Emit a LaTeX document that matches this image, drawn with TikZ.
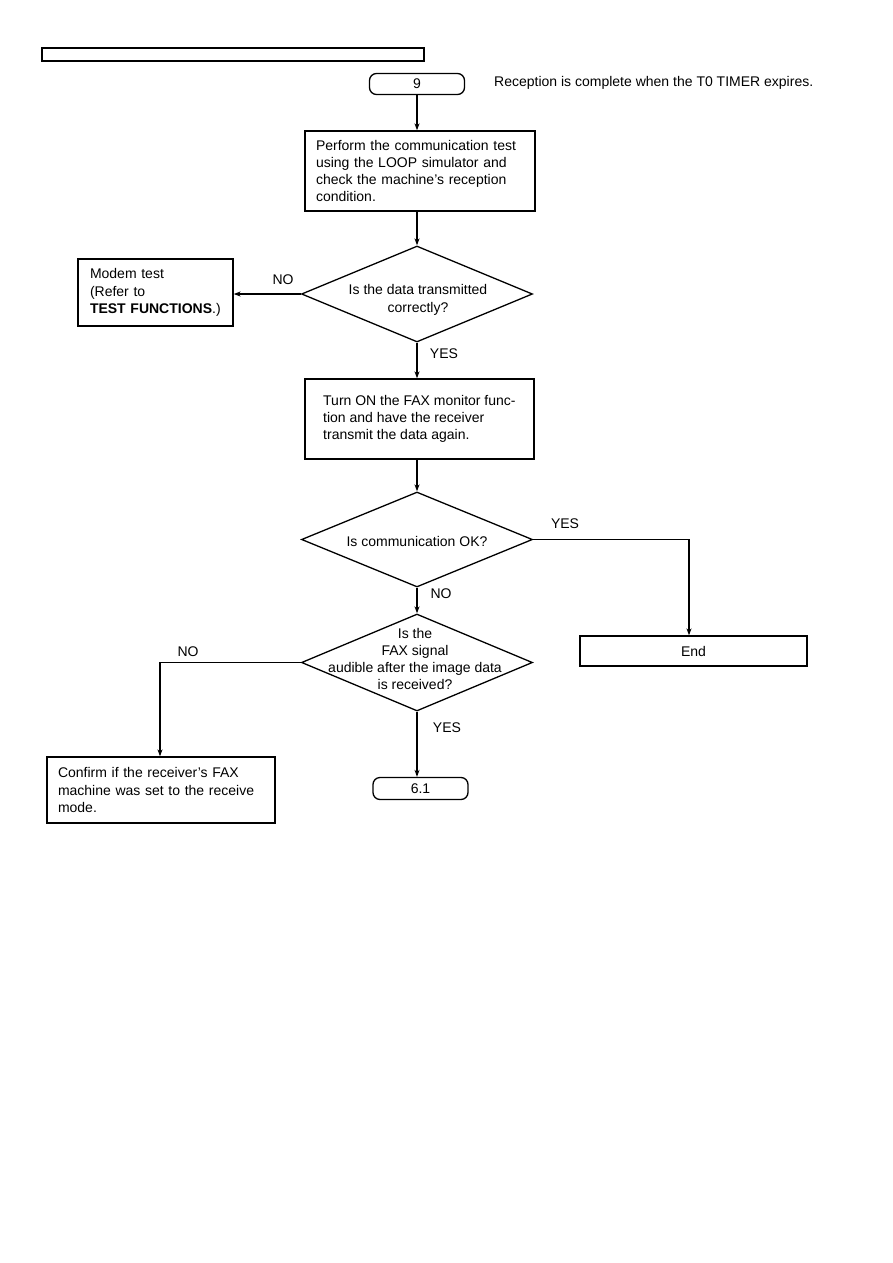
\documentclass[tikz,border=0pt]{standalone}
\usepackage{fontspec}
\setmainfont{Liberation Sans}
\usetikzlibrary{shapes.geometric,arrows.meta}
\begin{document}
\begin{tikzpicture}[x=1pt,y=-1pt,
  every node/.style={font=\fontsize{14}{17.3}\selectfont},
  frame/.style={draw, line width=1.3pt, rectangle, inner ysep=0pt},
  term/.style={draw, line width=1.3pt, rectangle, rounded corners=7pt, inner sep=0pt},
  decision/.style={draw, line width=1.3pt, diamond, inner sep=0pt},
  lbl/.style={inner sep=0pt},
  conn/.style={line width=1.3pt, -{Stealth[length=7pt,width=5pt]}}]
\useasboundingbox (0,0) rectangle (893,1263);
\fill[white] (0,0) rectangle (893,1263);
\coordinate (sp) at (417,0);

% header bar
\node[draw, line width=1.2pt, rectangle, minimum width=382pt, minimum height=13pt, inner sep=0pt] (hdr) at (233,54.5) {};

% start terminal
\node[term, minimum width=95pt, minimum height=21pt] (t9) at (417,84) {9};
\node[lbl, anchor=west] (note) at (494,83) {Reception is complete when the T0 TIMER expires.};

% box 1
\node[frame, minimum width=230pt, minimum height=80pt, inner xsep=11pt, text width=208pt, align=left] (b1) at (420,171)
  {Perform the communication test\\using the LOOP simulator and\\check the machine's reception\\condition.};

% diamond 1
\node[decision, minimum width=231pt, minimum height=96pt] (d1) at (417,294) {};
\node[lbl, align=center] (d1t) at (418,300) {Is the data transmitted\\correctly?};

% modem box
\node[frame, minimum width=155pt, minimum height=67pt, inner xsep=12pt, text width=131pt, align=left] (mod) at (155.5,292.5)
  {Modem test\\(Refer to\\\textbf{TEST FUNCTIONS}.)};

% box 2
\node[frame, minimum width=229pt, minimum height=80pt] (b2) at (419.5,419) {};
\node[lbl, anchor=west, align=left] (b2t) at (323,419)
  {Turn ON the FAX monitor func-\\tion and have the receiver\\transmit the data again.};

% diamond 2
\node[decision, minimum width=231pt, minimum height=95pt] (d2) at (417,539.5) {};
\node[lbl] (d2t) at (417,541) {Is communication OK?};

% end box
\node[frame, minimum width=227pt, minimum height=30pt] (end) at (693.5,651) {End};

% diamond 3
\node[decision, minimum width=231pt, minimum height=97pt] (d3) at (417,662.5) {};
\node[lbl, align=center] (d3t) at (415,659) {Is the\\FAX signal\\audible after the image data\\is received?};

% confirm box
\node[frame, minimum width=228pt, minimum height=66pt, inner xsep=11pt, text width=206pt, align=left] (conf) at (161,790)
  {Confirm if the receiver's FAX\\machine was set to the receive\\mode.};

% 6.1 terminal
\node[term, minimum width=95pt, minimum height=22pt] (t61) at (420.5,788.5) {6.1};

% connectors
\draw[conn] (t9.south -| sp) -- (b1.north -| sp);
\draw[conn] (b1.south -| sp) -- (d1.north);
\draw[conn] (d1.west) -- (mod.east |- d1.west);
\draw[conn] (d1.south) -- (b2.north -| sp);
\draw[conn] (b2.south -| sp) -- (d2.north);
\coordinate (yesc) at (689,0);
\draw[conn] (d2.east) -- (d2.east -| yesc) -- (end.north -| yesc);
\draw[conn] (d2.south) -- (d3.north);
\coordinate (noc) at (160,0);
\draw[conn] (d3.west) -- (d3.west -| noc) -- (conf.north -| noc);
\draw[conn] (d3.south) -- (t61.north -| sp);

% labels
\node[lbl] (no1) at (283,280) {NO};
\node[lbl] (yes1) at (444,354) {YES};
\node[lbl] (yes2) at (565,524) {YES};
\node[lbl] (no2) at (441,594) {NO};
\node[lbl] (no3) at (188,652) {NO};
\node[lbl] (yes3) at (447,728) {YES};
\end{tikzpicture}
\end{document}
